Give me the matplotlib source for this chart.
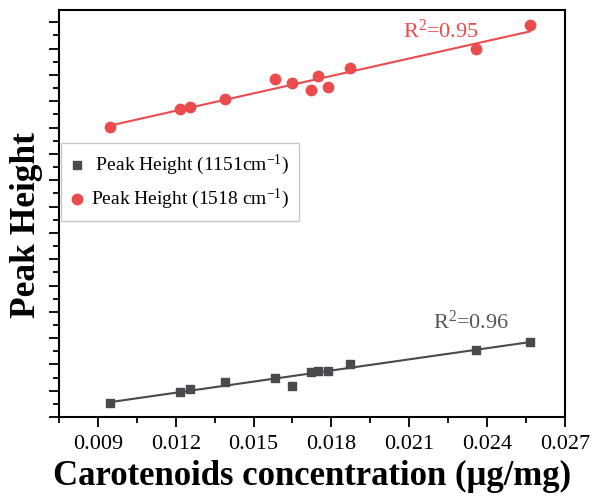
import numpy as np
import matplotlib
matplotlib.use('Agg')
import matplotlib.pyplot as plt
from matplotlib.ticker import MultipleLocator, NullFormatter

plt.rcParams['font.family'] = ['Liberation Serif', 'DejaVu Serif']
plt.rcParams['mathtext.fontset'] = 'custom'
plt.rcParams['mathtext.rm'] = 'Liberation Serif'
plt.rcParams['mathtext.it'] = 'Liberation Serif:italic'
plt.rcParams['mathtext.bf'] = 'Liberation Serif:bold'

# Carotenoids concentration (ug/mg)
conc = [0.00945, 0.01218, 0.01254, 0.01390, 0.01584, 0.01650,
        0.01721, 0.01750, 0.01789, 0.01873, 0.02357, 0.02565]
# peak heights (arbitrary units, axis has no tick labels)
peak_1151 = [0.53, 0.96, 1.08, 1.32, 1.47, 1.17, 1.71, 1.74, 1.76, 2.00, 2.55, 2.86]
peak_1518 = [11.04, 11.70, 11.78, 12.10, 12.84, 12.71, 12.41, 12.95, 12.56, 13.26, 13.97, 14.90]
xticks = [0.009, 0.012, 0.015, 0.018, 0.021, 0.024, 0.027]

red = '#ec4b4d'
gray = '#4a4a4e'

x = np.array(conc)
fig, ax = plt.subplots(figsize=(5.92, 4.96), dpi=100)
fig.subplots_adjust(left=0.0997, right=0.954, bottom=0.159, top=0.980)

ax.scatter(x, peak_1151, marker='s', s=36, color=gray, zorder=3,
           label=' Peak Height (1151cm$^{-1}$)')
ax.scatter(x, peak_1518, marker='o', s=56, color=red, zorder=3,
           label='Peak Height (1518 cm$^{-1}$)')

# linear fits
xf = np.array([x.min(), x.max()])
for y, c in [(peak_1151, gray), (peak_1518, red)]:
    k, b = np.polyfit(x, y, 1)
    ax.plot(xf, k * xf + b, color=c, lw=1.5, zorder=2)

ax.text(0.02075, 14.65, 'R$^2$=0.95', color=red, fontsize=16, ha='left', va='center')
ax.text(0.02191, 3.62, 'R$^2$=0.96', color='#555555', fontsize=16, ha='left', va='center')

ax.set_ylim(0, 15.47)
ax.xaxis.set_minor_locator(MultipleLocator(0.0015))
ax.yaxis.set_major_locator(MultipleLocator(1))
ax.yaxis.set_minor_locator(MultipleLocator(0.5))
ax.yaxis.set_major_formatter(NullFormatter())
ax.set_xticks(xticks)
ax.set_xticklabels(['%.3f' % t for t in xticks])
ax.set_xlim(0.0075, 0.027)

ax.tick_params(which='both', direction='out', width=1.3, labelsize=16, top=False, right=False)
ax.tick_params(axis='x', pad=6)
ax.tick_params(which='major', length=7)
ax.tick_params(which='minor', length=4)
for sp in ax.spines.values():
    sp.set_linewidth(1.5)

ax.set_xlabel('Carotenoids concentration (\u03bcg/mg)', fontsize=25, fontweight='bold', labelpad=4)
ax.set_ylabel('Peak Height', fontsize=25.5, fontweight='bold')
ax.yaxis.set_label_coords(-0.032, 0.472)

leg = ax.legend(loc='upper left', bbox_to_anchor=(0.004, 0.673), fontsize=14,
                frameon=True, fancybox=False, edgecolor='#bbbbbb', handletextpad=0.45,
                borderpad=0.5, labelspacing=0.5, handlelength=0.6, borderaxespad=0)
leg.get_frame().set_linewidth(1.0)

plt.savefig('out.png', dpi=100)
